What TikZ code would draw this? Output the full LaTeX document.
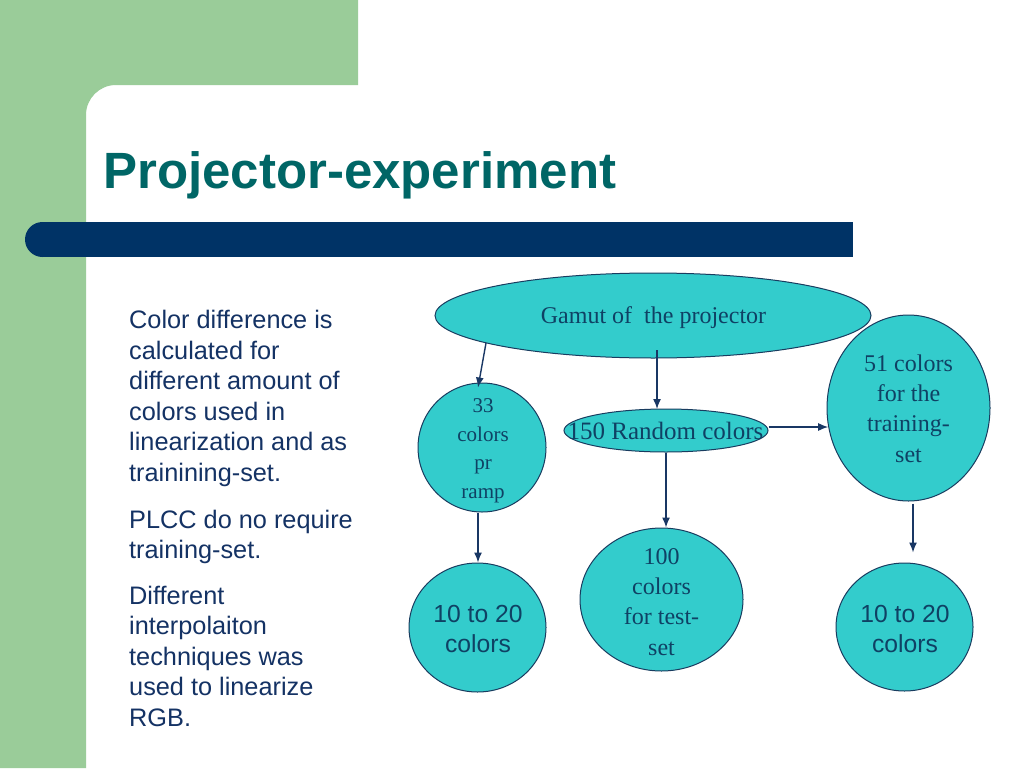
\documentclass[tikz,border=0pt]{standalone}
\usepackage{fontspec}
\setmainfont{Liberation Serif}
\setsansfont{Liberation Sans}
\usetikzlibrary{shapes.geometric,arrows.meta,calc}
\definecolor{slgreen}{RGB}{154,204,153}
\definecolor{titleteal}{RGB}{0,102,102}
\definecolor{barblue}{RGB}{0,51,102}
\definecolor{bubble}{RGB}{51,204,204}
\definecolor{bubbleline}{RGB}{25,60,95}
\definecolor{bubbletext}{RGB}{15,65,100}
\definecolor{bodytext}{RGB}{20,50,100}
\definecolor{arrowc}{RGB}{25,55,100}
\begin{document}
\begin{tikzpicture}[x=1pt,y=-1pt,
  bubble/.style={ellipse,draw=bubbleline,line width=1pt,fill=bubble,inner sep=0pt},
  btext/.style={text=bubbletext,font=\fontsize{24}{30.3}\selectfont,align=center,inner sep=0pt,anchor=base},
  bstext/.style={text=bubbletext,font=\sffamily\fontsize{24.7}{30}\selectfont,align=center,inner sep=0pt,anchor=base},
  body/.style={text=bodytext,font=\sffamily\fontsize{25.3}{30.5}\selectfont,align=left,inner sep=0pt,anchor=base west},
  conn/.style={draw=arrowc,line width=1.4pt,-{Latex[length=10pt,width=8pt]}},
]
\useasboundingbox (0,0) rectangle (1024,768);
\fill[white] (0,0) rectangle (1024,768);
% background decoration
\fill[slgreen] (0,0) -- (358,0) -- (358,85) -- (116,85)
  arc[start angle=270,end angle=180,radius=30] -- (86,768) -- (0,768) -- cycle;
\fill[barblue] (42.5,222) rectangle (853,257);
\fill[barblue] (42.5,239.5) circle[radius=17.5];
% title
\node[anchor=base west,inner sep=0pt,font=\sffamily\bfseries\fontsize{51}{60}\selectfont,text=titleteal] (title) at (103,188) {Projector-experiment};
% body text (anchored at the baseline of the last line)
\node[body] (p1) at (129,481) {Color difference is\\calculated for\\different amount of\\colors used in\\linearization and as\\trainining-set.};
\node[body] (p2) at (129,558.5) {PLCC do no require\\training-set.};
\node[body] (p3) at (129,726) {Different\\interpolaiton\\techniques was\\used to linearize\\RGB.};
% bubbles
\node[bubble,minimum width=436pt,minimum height=85pt] (gamut) at (653,315.5) {};
\node[bubble,minimum width=128pt,minimum height=129pt] (r33) at (482,447.5) {};
\node[bubble,minimum width=204pt,minimum height=43pt] (rnd) at (666,430.5) {};
\node[bubble,minimum width=163pt,minimum height=186pt] (t51) at (908.5,408) {};
\node[bubble,minimum width=137pt,minimum height=129pt] (l10) at (477.5,627.5) {};
\node[bubble,minimum width=163pt,minimum height=143pt] (c100) at (661.5,599.5) {};
\node[bubble,minimum width=137pt,minimum height=128pt] (r10) at (904.5,627) {};
% bubble texts (anchored at the baseline of the last line)
\node[btext] (gamut-t) at (653.5,323) {Gamut of~ the projector};
\node[btext,font=\fontsize{21}{28.5}\selectfont] (r33-t) at (483,498) {33\\colors\\pr\\ramp};
\node[btext,font=\fontsize{25}{30}\selectfont] (rnd-t) at (665.5,439) {150 Random colors};
\node[btext] (t51-t) at (908.5,462) {51 colors\\for the\\training-\\set};
\node[btext] (c100-t) at (661.5,655) {100\\colors\\for test-\\set};
\node[bstext] (l10-t) at (478,652) {10 to 20\\colors};
\node[bstext] (r10-t) at (905,652) {10 to 20\\colors};
% connectors
\draw[conn] ($(gamut.center)+(-167,27.5)$) -- ($(r33.north)+(-4,5)$);
\draw[conn] ($(gamut.center)+(4,34.5)$) -- ($(rnd.north)+(-9,0.5)$);
\draw[conn] ($(rnd.east)+(0,-3.5)$) -- ($(t51.west)+(1.7,19)$);
\draw[conn] (rnd.south) -- ($(c100.north)+(4.5,0)$);
\draw[conn] ($(r33.south)+(-4,0)$) -- ($(l10.north)+(0.5,0)$);
\draw[conn] ($(t51.south)+(4.5,2)$) -- ($(r10.north)+(8.5,-10)$);
\end{tikzpicture}
\end{document}
